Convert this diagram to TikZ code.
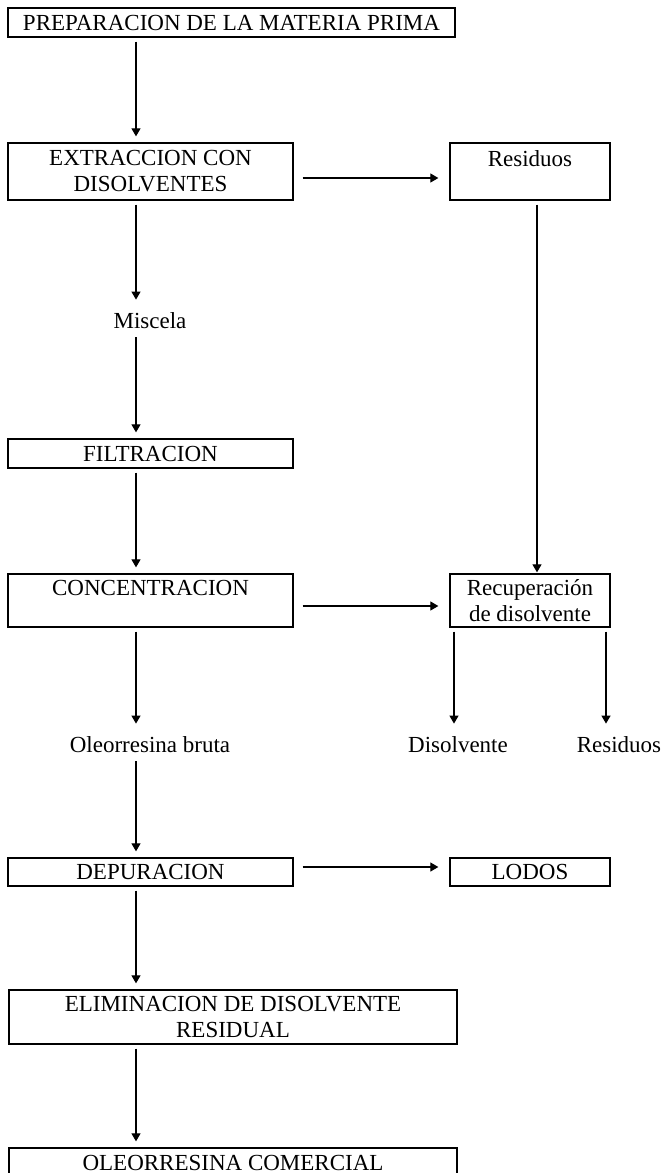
\documentclass[tikz,border=0pt]{standalone}
\usepackage{fontspec}
\setmainfont{Liberation Serif}
\usetikzlibrary{arrows.meta}

\begin{document}
\begin{tikzpicture}[
      x=0.5pt,y=-0.5pt,
      font=\fontsize{11.5}{13}\selectfont,
      box/.style={draw,line width=0.65pt,inner sep=0pt,align=center,minimum height=#1},
      box/.default=14.5pt,
      wide/.style={minimum width=224pt},
      mid/.style={minimum width=142.5pt},
      side/.style={minimum width=80pt},
      lbl/.style={inner sep=0pt,text height=11pt,text depth=2.5pt,anchor=base},
      flow/.style={line width=0.6pt,-{Triangle[length=4pt,width=4.5pt]},shorten <=2pt,shorten >=3pt},
      sideflow/.style={flow,shorten <=4.5pt,shorten >=5.5pt}]
    \useasboundingbox (0,0) rectangle (661,1173);
    \clip (0,0) rectangle (661,1173);
    \coordinate (spine) at (136,0);
    \coordinate (rspine) at (537,0);
    \coordinate (dleft) at (454,0);
    \coordinate (dright) at (606,0);
    \node[box,minimum width=223.5pt] (prep) at (231.5,22.5) {PREPARACION DE LA MATERIA PRIMA};
    \node[box=28.5pt,mid] (extr) at (150.5,171.5) {EXTRACCION CON\\DISOLVENTES};
    \node[box=28.5pt,side] (res1) at (530,171.5) {Residuos\\\mbox{}};
    \node[lbl] (misc) at (150,328) {Miscela};
    \node[box,mid] (filt) at (150.5,453.5) {FILTRACION};
    \node[box=26.5pt,mid] (conc) at (150.5,600.5) {CONCENTRACION\\\mbox{}};
    \node[box=26.5pt,side] (recu) at (530,600.5) {Recuperación\\de disolvente};
    \node[lbl] (bruta) at (150,752) {Oleorresina bruta};
    \node[lbl] (disv) at (458,752) {Disolvente};
    \node[lbl] (res2) at (619,752) {Residuos};
    \node[box=14pt,mid] (depu) at (150.5,872) {DEPURACION};
    \node[box=14pt,side] (lodos) at (530,872) {LODOS};
    \node[box=27pt,wide] (elim) at (233,1017) {ELIMINACION DE DISOLVENTE\\RESIDUAL};
    \node[box=15pt,wide] (comer) at (233,1163) {OLEORRESINA COMERCIAL};
    \draw[flow] (prep.south -| spine) -- (extr.north -| spine);
    \draw[flow] (extr.south -| spine) -- (misc.north -| spine);
    \draw[flow] (misc.south -| spine) -- (filt.north -| spine);
    \draw[flow] (filt.south -| spine) -- (conc.north -| spine);
    \draw[flow] (conc.south -| spine) -- (bruta.north -| spine);
    \draw[flow] (bruta.south -| spine) -- (depu.north -| spine);
    \draw[flow] (depu.south -| spine) -- (elim.north -| spine);
    \draw[flow] (elim.south -| spine) -- (comer.north -| spine);
    \draw[sideflow] ([yshift=-3.25pt]extr.east) -- ([yshift=-3.25pt]extr.east -| res1.west);
    \draw[sideflow] ([yshift=-2.75pt]conc.east) -- ([yshift=-2.75pt]conc.east -| recu.west);
    \draw[sideflow] ([yshift=2.5pt]depu.east) -- ([yshift=2.5pt]depu.east -| lodos.west);
    \draw[flow,shorten >=0.5pt] (res1.south -| rspine) -- (recu.north -| rspine);
    \draw[flow] (recu.south -| dleft) -- (disv.north -| dleft);
    \draw[flow] (recu.south -| dright) -- (res2.north -| dright);
  \end{tikzpicture}
\end{document}
